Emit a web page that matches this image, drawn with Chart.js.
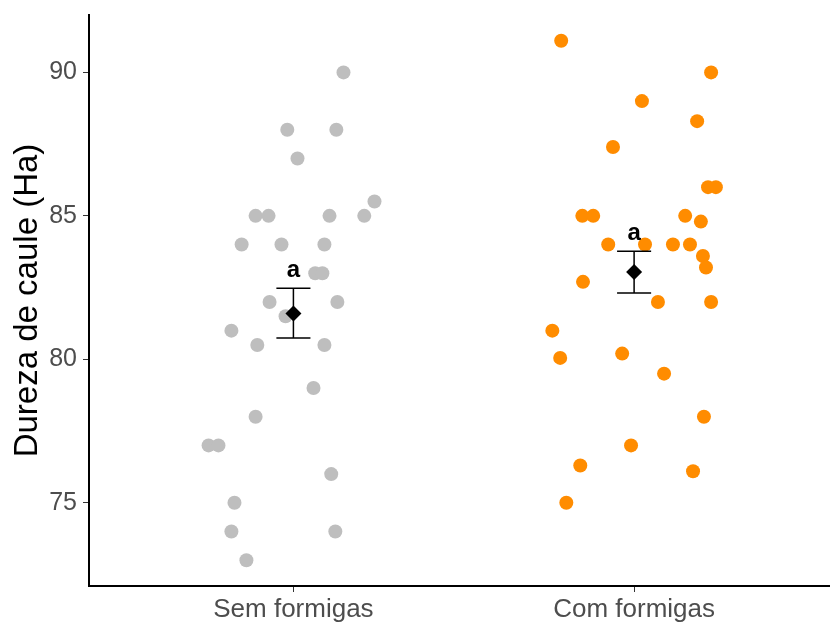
<!DOCTYPE html>
<html>
<head>
<meta charset="utf-8">
<script src="https://cdn.jsdelivr.net/npm/chart.js@4"></script>
<style>
  body { margin: 0; background: #fff; }
  #wrap { width: 830px; height: 625px; }
</style>
</head>
<body>
<div id="wrap"><canvas id="strip" width="830" height="625"></canvas></div>
<script>
// categories and tick labels
const categories = ['Sem formigas', 'Com formigas'];
const yTicks = [75, 80, 85, 90];

// Sem formigas: values and horizontal jitter
const semY = [90, 88, 88, 87, 85.5, 85, 85, 85, 85, 84, 84, 84, 83, 83, 82, 82, 81.5, 81,
  80.5, 80.5, 79, 78, 77, 77, 76, 75, 74, 74, 73];
const semJitter = [0.147, -0.018, 0.126, 0.012, 0.238, -0.111, -0.073, 0.106, 0.208, -0.152, -0.035, 0.091,
  0.064, 0.085, -0.070, 0.129, -0.023, -0.182, -0.106, 0.091, 0.059, -0.111, -0.249, -0.220, 0.111,
  -0.173, -0.182, 0.123, -0.138];

// Com formigas
const comY = [91.1, 90, 89, 88.3, 87.4, 86, 86, 85, 85, 85, 84.8, 84, 84, 84, 84, 83.6, 83.2, 82.7,
  82, 82, 81, 80.05, 80.2, 79.5, 78, 77, 76.3, 76.1, 75];
const comJitter = [-0.214, 0.226, 0.023, 0.185, -0.062, 0.217, 0.240, -0.152, -0.120, 0.150, 0.196,
  -0.076, 0.032, 0.114, 0.164, 0.202, 0.211, -0.150, 0.070, 0.226, -0.240, -0.217, -0.035, 0.088,
  0.205, -0.009, -0.158, 0.173, -0.199];

// mean +/- se and letters
const means = [81.6, 83.04];
const upper = [82.48, 83.77];
const lower = [80.74, 82.31];
const letters = ['a', 'a'];
const letterY = [83.1, 84.4];

const FONT = '"Liberation Sans", Arial, sans-serif';

function toPoints(values, jitter, cat) {
  return values.map((v, i) => ({ x: cat + 1 + jitter[i], y: v }));
}

// no extra room for the labels at the ends of the axes
function noPad(s) {
  s.paddingTop = 0; s.paddingBottom = 0; s.paddingLeft = 0; s.paddingRight = 0;
}

const errorBars = {
  id: 'errorBars',
  afterDatasetsDraw(chart) {
    const { ctx, scales: { x, y } } = chart;
    ctx.save();
    ctx.strokeStyle = '#000';
    ctx.lineWidth = 1.5;
    means.forEach((m, i) => {
      const cx = x.getPixelForValue(i + 1);
      const half = x.getPixelForValue(i + 1.05) - cx;
      const top = y.getPixelForValue(upper[i]);
      const bot = y.getPixelForValue(lower[i]);
      ctx.beginPath();
      ctx.moveTo(cx, top); ctx.lineTo(cx, bot);
      ctx.moveTo(cx - half, top); ctx.lineTo(cx + half, top);
      ctx.moveTo(cx - half, bot); ctx.lineTo(cx + half, bot);
      ctx.stroke();
    });
    ctx.fillStyle = '#000';
    ctx.font = 'bold 24px ' + FONT;
    ctx.textAlign = 'center';
    ctx.textBaseline = 'middle';
    letters.forEach((t, i) => {
      ctx.fillText(t, x.getPixelForValue(i + 1), y.getPixelForValue(letterY[i]));
    });
    ctx.restore();
  }
};

new Chart(document.getElementById('strip'), {
  type: 'scatter',
  data: {
    datasets: [
      { label: 'media', data: means.map((m, i) => ({ x: i + 1, y: m })), pointStyle: 'rectRot',
        pointRadius: 8, backgroundColor: '#000', borderWidth: 0, order: 0 },
      { label: categories[0], data: toPoints(semY, semJitter, 0), pointRadius: 7,
        backgroundColor: '#BEBEBE', borderWidth: 0, order: 1 },
      { label: categories[1], data: toPoints(comY, comJitter, 1), pointRadius: 7,
        backgroundColor: '#FF8C00', borderWidth: 0, order: 1 }
    ]
  },
  options: {
    responsive: false,
    animation: false,
    layout: { autoPadding: false, padding: { top: 15, right: 0, left: 0, bottom: 0 } },
    plugins: { legend: { display: false }, tooltip: { enabled: false } },
    scales: {
      x: {
        type: 'linear', min: 0.4, max: 2.575,
        afterBuildTicks: s => { s.ticks = categories.map((c, i) => ({ value: i + 1 })); },
        afterFit: s => { s.height = 39; noPad(s); },
        ticks: { callback: (v) => categories[v - 1], color: '#4D4D4D',
          font: { family: FONT, size: 26 }, padding: 2, maxRotation: 0 },
        grid: { drawOnChartArea: false, tickLength: 6, tickColor: '#333' },
        border: { color: '#000', width: 2 }
      },
      y: {
        min: 72.1, max: 92,
        afterBuildTicks: s => { s.ticks = yTicks.map(v => ({ value: v })); },
        afterFit: s => { s.width = 89; noPad(s); },
        ticks: { color: '#4D4D4D', font: { family: FONT, size: 25 }, padding: 6 },
        grid: { drawOnChartArea: false, tickLength: 6, tickColor: '#333' },
        border: { color: '#000', width: 2 },
        title: { display: true, text: 'Dureza de caule (Ha)', color: '#000',
          font: { family: FONT, size: 33 }, padding: { top: 8, bottom: 0 } }
      }
    }
  },
  plugins: [errorBars]
});
</script>
</body>
</html>
